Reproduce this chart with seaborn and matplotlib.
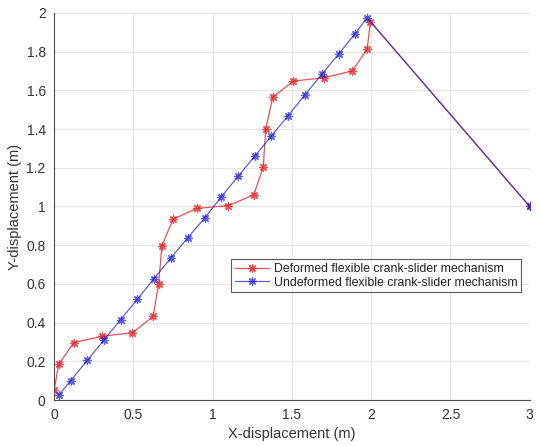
import matplotlib
matplotlib.use("Agg")
import matplotlib.pyplot as plt
import seaborn as sns

# deformed mechanism (red)
def_x = [0.0, 0.03, 0.125, 0.305, 0.495, 0.625, 0.66, 0.68, 0.75, 0.90, 1.10,
         1.26, 1.32, 1.335, 1.38, 1.51, 1.70, 1.88, 1.975, 1.995, 3.0]
def_y = [0.05, 0.185, 0.297, 0.33, 0.348, 0.432, 0.60, 0.795, 0.934, 0.99, 1.005,
         1.06, 1.205, 1.40, 1.565, 1.648, 1.665, 1.70, 1.812, 1.955, 1.0]

# undeformed mechanism (blue)
und_x = [0.03, 0.105, 0.21, 0.315, 0.42, 0.525, 0.63, 0.737, 0.843, 0.95, 1.055,
         1.16, 1.265, 1.37, 1.477, 1.583, 1.69, 1.795, 1.897, 1.975, 3.0]
und_y = [0.025, 0.10, 0.205, 0.31, 0.416, 0.52, 0.627, 0.734, 0.838, 0.94, 1.05,
         1.155, 1.259, 1.363, 1.47, 1.577, 1.684, 1.788, 1.891, 1.975, 1.0]

sns.set_style("white")
plt.rcParams["font.family"] = ["Liberation Sans", "DejaVu Sans"]

fig, ax = plt.subplots(figsize=(5.4, 4.46), dpi=100)
fig.subplots_adjust(left=0.1, right=0.981, top=0.971, bottom=0.103)

star = (8, 2, 0)
sns.lineplot(x=def_x, y=def_y, sort=False, estimator=None, ax=ax,
             color="#e8242a", lw=0.9, marker=star, markersize=6,
             markeredgecolor="#e8242a", markeredgewidth=0.9, alpha=0.8,
             label="Deformed flexible crank-slider mechanism")
sns.lineplot(x=und_x, y=und_y, sort=False, estimator=None, ax=ax,
             color="#1a1ad0", lw=0.9, marker=star, markersize=6,
             markeredgecolor="#1a1ad0", markeredgewidth=0.9, alpha=0.7,
             label="Undeformed flexible crank-slider mechanism")

ax.set_xlim(0, 3)
ax.set_ylim(0, 2)
ax.set_xticks([0, 0.5, 1, 1.5, 2, 2.5, 3])
ax.set_xticklabels(["0", "0.5", "1", "1.5", "2", "2.5", "3"])
ax.set_yticks([0, 0.2, 0.4, 0.6, 0.8, 1, 1.2, 1.4, 1.6, 1.8, 2])
ax.set_yticklabels(["0", "0.2", "0.4", "0.6", "0.8", "1", "1.2", "1.4", "1.6", "1.8", "2"])
ax.grid(True, color="#e6e6e6", lw=0.8)
ax.set_axisbelow(True)

for s in ["top", "right"]:
    ax.spines[s].set_visible(False)
for s in ["left", "bottom"]:
    ax.spines[s].set_color("#4d4d4d")
    ax.spines[s].set_linewidth(0.8)
ax.tick_params(direction="in", length=4, width=0.8, color="#4d4d4d",
               labelsize=10, labelcolor="#333333", pad=6)

ax.set_xlabel("X-displacement (m)", fontsize=10.5, color="#333333", labelpad=3)
ax.set_ylabel("Y-displacement (m)", fontsize=10.5, color="#333333", labelpad=3)

leg = ax.legend(loc="upper left", bbox_to_anchor=(0.372, 0.364), borderaxespad=0,
                fontsize=8.8, frameon=True, fancybox=False, handlelength=2.8,
                handletextpad=0.4, borderpad=0.3, labelspacing=0.15)
leg.get_frame().set_edgecolor("#333333")
leg.get_frame().set_linewidth(0.8)
for t in leg.get_texts():
    t.set_color("#222222")

fig.savefig("out.png", dpi=100)
